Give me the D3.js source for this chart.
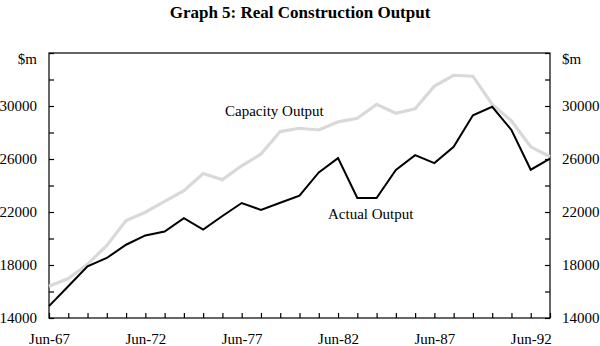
<!DOCTYPE html>
<html><head><meta charset="utf-8">
<script src="https://cdn.jsdelivr.net/npm/d3@7"></script>
<style>body{margin:0;background:#fff}svg{display:block}text{font-family:"Liberation Serif","Times New Roman",serif;fill:#000}</style>
</head><body>
<svg id="c" width="600" height="346"></svg>
<script>
const years = d3.range(1967, 1994);
const actual = [14900,16400,17900,18530,19530,20230,20530,21530,20680,21700,22680,22160,22700,23230,24990,26070,23060,23060,25170,26290,25690,26920,29300,29940,28190,25190,26020];
const capacity = [16400,16980,18050,19480,21360,21980,22800,23610,24910,24440,25490,26370,28070,28320,28190,28800,29070,30120,29450,29790,31500,32320,32250,30120,28870,26920,26170];
const yTickValues = [14000,18000,22000,26000,30000];
const xLabelYears = [1967,1972,1977,1982,1987,1992];
const title = "Graph 5: Real Construction Output";

const svg = d3.select("#c");
const L=49, R=550, T=53, B=318;
const x = d3.scaleLinear().domain([1967,1993]).range([L,R]);
const y = d3.scaleLinear().domain([14000,34000]).range([B,T]);

svg.append("text").attr("x",300).attr("y",18).attr("text-anchor","middle")
  .style("font-size","17px").style("font-weight","bold").text(title);

svg.append("rect").attr("x",L).attr("y",T).attr("width",R-L).attr("height",B-T)
  .attr("fill","none").attr("stroke","#000").attr("stroke-width",1.2);

const allY = d3.range(14000,34001,2000);
const axL = d3.axisLeft(y).tickValues(allY).tickSize(-5).tickFormat(d=>yTickValues.includes(d)?d:"").tickPadding(12);
const gl = svg.append("g").attr("transform",`translate(${L},0)`).call(axL);
const axR = d3.axisRight(y).tickValues(allY).tickSize(-5).tickFormat(d=>yTickValues.includes(d)?d:"").tickPadding(12);
const gr = svg.append("g").attr("transform",`translate(${R},0)`).call(axR);
const axB = d3.axisBottom(x).tickValues(years).tickSize(-5).tickFormat(d=>xLabelYears.includes(d)?"Jun-"+String(d).slice(2):"").tickPadding(15);
const gb = svg.append("g").attr("transform",`translate(0,${B})`).call(axB);
[gl,gr,gb].forEach(g=>{
  g.select(".domain").remove();
  g.selectAll("line").attr("stroke","#000").attr("stroke-width",1.2);
  g.selectAll("text").style("font-size","15px").attr("font-family",null).attr("fill","#000");
});
gl.selectAll("text").attr("x",-12);
svg.append("text").attr("x",37).attr("y",64).attr("text-anchor","end").style("font-size","15px").text("$m");
svg.append("text").attr("x",562).attr("y",64).style("font-size","15px").text("$m");

const line = d3.line().x((d,i)=>x(years[i])).y(d=>y(d));
svg.append("path").datum(capacity).attr("d",line).attr("fill","none").attr("stroke","#d9d9d9").attr("stroke-width",3.2);
svg.append("path").datum(actual).attr("d",line).attr("fill","none").attr("stroke","#000").attr("stroke-width",2);

svg.append("text").attr("x",225).attr("y",116).style("font-size","15px").text("Capacity Output");
svg.append("text").attr("x",328).attr("y",219).style("font-size","15px").text("Actual Output");
</script>
</body></html>
